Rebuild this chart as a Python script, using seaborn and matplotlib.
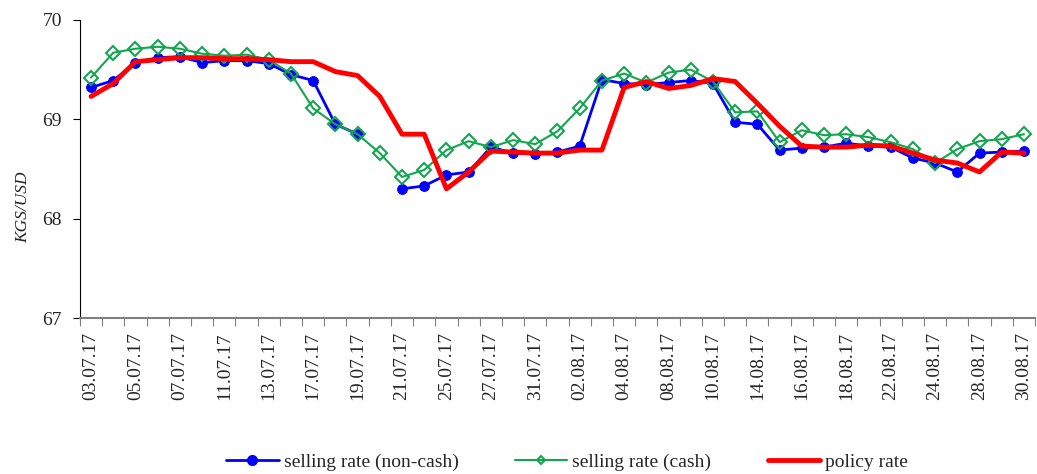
import numpy as np
import pandas as pd
import matplotlib
matplotlib.use("Agg")
import matplotlib.pyplot as plt
from matplotlib.lines import Line2D
import seaborn as sns

# trading days, Jul-Aug 2017
dates = ["03.07.17", "04.07.17", "05.07.17", "06.07.17", "07.07.17", "10.07.17", "11.07.17",
         "12.07.17", "13.07.17", "14.07.17", "17.07.17", "18.07.17", "19.07.17", "20.07.17",
         "21.07.17", "24.07.17", "25.07.17", "26.07.17", "27.07.17", "28.07.17", "31.07.17",
         "01.08.17", "02.08.17", "03.08.17", "04.08.17", "07.08.17", "08.08.17", "09.08.17",
         "10.08.17", "11.08.17", "14.08.17", "15.08.17", "16.08.17", "17.08.17", "18.08.17",
         "21.08.17", "22.08.17", "23.08.17", "24.08.17", "25.08.17", "28.08.17", "29.08.17",
         "30.08.17"]

non_cash = [69.32, 69.39, 69.57, 69.62, 69.63, 69.57, 69.59, 69.59, 69.56, 69.45, 69.39,
            68.95, 68.85, np.nan, 68.30, 68.33, 68.44, 68.47, 68.72, 68.66, 68.65, 68.67,
            68.73, 69.40, 69.36, 69.35, 69.37, 69.39, 69.36, 68.97, 68.95, 68.69, 68.71,
            68.72, 68.76, 68.73, 68.72, 68.61, 68.56, 68.47, 68.66, 68.67, 68.68]

cash = [69.42, 69.67, 69.71, 69.73, 69.71, 69.66, 69.64, 69.65, 69.60, 69.46, 69.11,
        68.95, 68.85, 68.66, 68.42, 68.49, 68.69, 68.78, 68.72, 68.79, 68.75, 68.88,
        69.11, 69.39, 69.46, 69.37, 69.47, 69.50, 69.38, 69.07, 69.08, 68.77, 68.89,
        68.84, 68.85, 68.82, 68.77, 68.70, 68.56, 68.70, 68.78, 68.80, 68.85]

policy = [69.23, 69.36, 69.58, 69.60, 69.62, 69.62, 69.61, 69.61, 69.60, 69.58, 69.58,
          69.48, 69.44, 69.23, 68.85, 68.85, 68.30, 68.47, 68.68, 68.67, 68.66, 68.66,
          68.69, 68.69, 69.32, 69.38, 69.31, 69.34, 69.41, 69.38, 69.16, 68.93, 68.73,
          68.72, 68.72, 68.74, 68.73, 68.66, 68.59, 68.56, 68.47, 68.67, 68.66]

labels = ["selling rate (non-cash)", "selling rate (cash)", "policy rate"]

df = pd.DataFrame({"idx": np.arange(len(dates)), "date": dates,
                   "non_cash": non_cash, "cash": cash, "policy": policy})
# keep the break in the non-cash line where a value is missing
df["seg"] = df["non_cash"].isna().cumsum()

BLUE, GREEN, RED = "#0000FF", "#13A54F", "#FF0000"

sns.set_style("white")
plt.rcParams["font.family"] = ["Liberation Serif", "DejaVu Serif"]

fig = plt.figure(figsize=(10.37, 4.74), dpi=100)
ax = fig.add_axes([0.0771, 0.329, 0.921, 0.629])

sns.lineplot(data=df, x="idx", y="non_cash", units="seg", estimator=None, ax=ax,
             color=BLUE, lw=2, marker="o", markersize=7, markeredgecolor=BLUE, legend=False)
sns.lineplot(data=df, x="idx", y="cash", ax=ax, color=GREEN, lw=1.5,
             marker="D", markersize=7.5, markerfacecolor="none",
             markeredgecolor=GREEN, markeredgewidth=1.5, legend=False)
sns.lineplot(data=df, x="idx", y="policy", ax=ax, color=RED, lw=3.5, legend=False)

ax.set_xlim(-0.5, len(dates) - 0.5)
ax.set_ylim(67, 70)
ax.set_yticks([67, 68, 69, 70])
ax.tick_params(axis="y", labelsize=14, length=5, pad=8, direction="out", left=True,
               color="black")

ax.set_xticks(np.arange(-0.5, len(dates)))
ax.set_xticklabels([])
ax.tick_params(axis="x", which="major", length=6, direction="out", bottom=True, color="#808080")
ax.set_xticks(np.arange(0, len(dates), 2), minor=True)
ax.set_xticklabels(dates[::2], minor=True, rotation=90, fontsize=14)
ax.tick_params(axis="x", which="minor", length=0, pad=10)

ax.set_xlabel("")
ax.set_ylabel("KGS/USD", fontsize=12.5, style="italic")
ax.yaxis.set_label_coords(-0.051, 0.37)

for s in ["top", "right"]:
    ax.spines[s].set_visible(False)
ax.spines["left"].set_color("black")
ax.spines["bottom"].set_color("#808080")
ax.spines["bottom"].set_linewidth(1.5)

handles = [
    Line2D([], [], color=BLUE, lw=2, marker="o", markersize=7, markeredgecolor=BLUE),
    Line2D([], [], color=GREEN, lw=1.5, marker="D", markersize=4.5, markerfacecolor="none",
           markeredgecolor=GREEN, markeredgewidth=1.5),
    Line2D([], [], color=RED, lw=3.5),
]
ax.legend(handles, labels, loc="upper center", bbox_to_anchor=(0.51, -0.395), ncol=3,
          frameon=False, fontsize=14, handlelength=2.7, handletextpad=0.25,
          columnspacing=2.9)

fig.savefig("out.png", dpi=100)
